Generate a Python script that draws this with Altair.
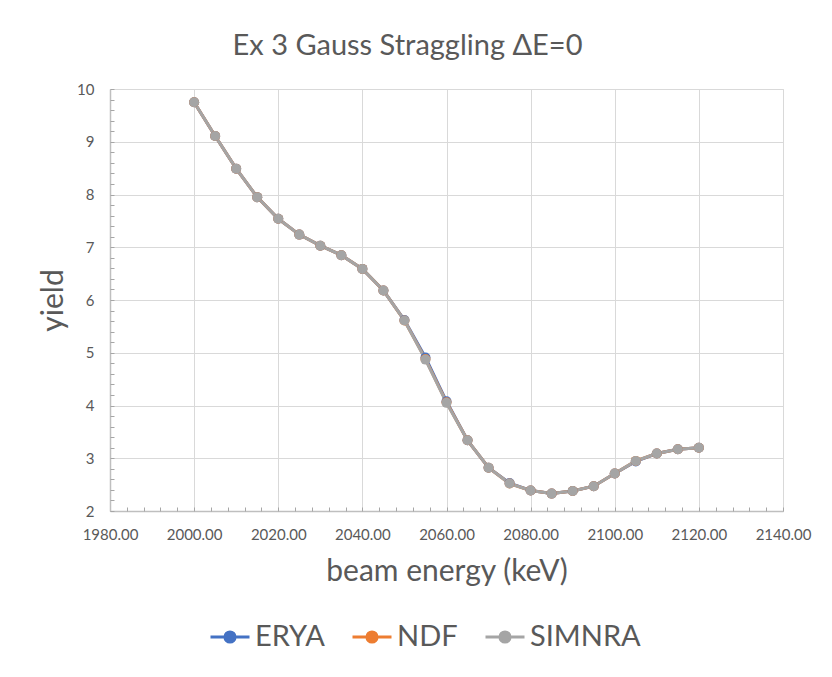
import altair as alt
import pandas as pd

energy = [2000, 2005, 2010, 2015, 2020, 2025, 2030, 2035, 2040, 2045, 2050, 2055, 2060,
          2065, 2070, 2075, 2080, 2085, 2090, 2095, 2100, 2105, 2110, 2115, 2120]
erya = [9.75, 9.11, 8.49, 7.95, 7.54, 7.24, 7.03, 6.85, 6.59, 6.18, 5.62, 4.91, 4.08,
        3.34, 2.82, 2.53, 2.39, 2.33, 2.38, 2.47, 2.71, 2.94, 3.09, 3.17, 3.20]
ndf = [9.75, 9.11, 8.49, 7.95, 7.54, 7.24, 7.03, 6.85, 6.59, 6.18, 5.61, 4.88, 4.06,
       3.34, 2.82, 2.52, 2.39, 2.33, 2.38, 2.47, 2.71, 2.95, 3.09, 3.17, 3.20]
simnra = [9.75, 9.11, 8.49, 7.95, 7.54, 7.24, 7.03, 6.85, 6.59, 6.18, 5.61, 4.87, 4.05,
          3.34, 2.82, 2.52, 2.39, 2.33, 2.38, 2.47, 2.71, 2.95, 3.09, 3.17, 3.20]
series_names = ["ERYA", "NDF", "SIMNRA"]
series_colors = ["#4472C4", "#ED7D31", "#A5A5A5"]

rows = []
for name, vals in zip(series_names, [erya, ndf, simnra]):
    for e, v in zip(energy, vals):
        rows.append({"energy": e, "yield": v, "series": name})
df = pd.DataFrame(rows)

FONT = "Lato"
TXT = "#595959"
W, H = 673, 422

xscale = alt.Scale(domain=[1980, 2140], nice=False)
yscale = alt.Scale(domain=[2, 10], nice=False)
cscale = alt.Scale(domain=series_names, range=series_colors)

x_major = list(range(1980, 2141, 20))
x_minor = list(range(1980, 2141, 4))
y_major = list(range(2, 11))
y_minor = [round(2 + 0.2 * i, 1) for i in range(41)]

legend_path = "M -1 0 H 1 M 0.26 0 A 0.26 0.26 0 1 1 -0.26 0 A 0.26 0.26 0 1 1 0.26 0 Z"
legend = alt.Legend(title=None, orient="none", direction="horizontal",
                    legendX=99, legendY=527, gridAlign="none",
                    symbolType=legend_path, symbolSize=1521,
                    symbolStrokeWidth=3, symbolOpacity=1, labelFont=FONT,
                    labelFontSize=29, labelColor=TXT,
                    labelOffset=4, columnPadding=21)

base = alt.Chart(df)

lines = base.mark_line(strokeWidth=3).encode(
    x=alt.X("energy:Q", scale=xscale,
            axis=alt.Axis(values=x_major, format=".2f", title="beam energy (keV)",
                          grid=True, gridColor="#D9D9D9", ticks=False,
                          domainColor="#BFBFBF", domainWidth=1.5, labelFlush=False,
                          labelOverlap=False,
                          labelFont=FONT, labelFontSize=15, labelColor=TXT, labelPadding=16,
                          titleFont=FONT, titleFontSize=30, titleColor=TXT,
                          titleFontWeight="normal", titlePadding=14)),
    y=alt.Y("yield:Q", scale=yscale,
            axis=alt.Axis(values=y_major, title="yield", grid=True, gridColor="#D9D9D9",
                          ticks=False, domainColor="#BFBFBF", domainWidth=1.5,
                          labelFlush=False, labelOverlap=False,
                          labelFont=FONT, labelFontSize=15, labelColor=TXT, labelPadding=16,
                          titleFont=FONT, titleFontSize=30, titleColor=TXT,
                          titleFontWeight="normal", titlePadding=8)),
    color=alt.Color("series:N", scale=cscale, legend=legend),
    detail="series:N",
)

points = base.mark_point(filled=True, size=100, opacity=1).encode(
    x=alt.X("energy:Q", scale=xscale,
            axis=alt.Axis(orient="top", offset=-H, values=x_minor, labels=False,
                          domain=False, grid=False, ticks=True, tickSize=4,
                          tickWidth=1, tickColor="#A6A6A6", title=None)),
    y=alt.Y("yield:Q", scale=yscale,
            axis=alt.Axis(orient="right", offset=-W, values=y_minor, labels=False,
                          domain=False, grid=False, ticks=True, tickSize=4,
                          tickWidth=1, tickColor="#A6A6A6", title=None)),
    color=alt.Color("series:N", scale=cscale, legend=legend),
)

chart = alt.layer(lines, points).resolve_axis(x="independent", y="independent").properties(
    width=W, height=H,
    autosize=alt.AutoSizeParams(type="none"),
    padding={"left": 102, "top": 81, "right": 41, "bottom": 150},
    title=alt.Title("Ex 3 Gauss Straggling ΔE=0", font=FONT, fontSize=29,
                    fontWeight="normal", color=TXT, anchor="middle", frame="group",
                    dx=-39, offset=21),
).configure_view(stroke="#D9D9D9").configure(background="white")

chart.save("out.html", embed_options={"renderer": "svg", "actions": False})
